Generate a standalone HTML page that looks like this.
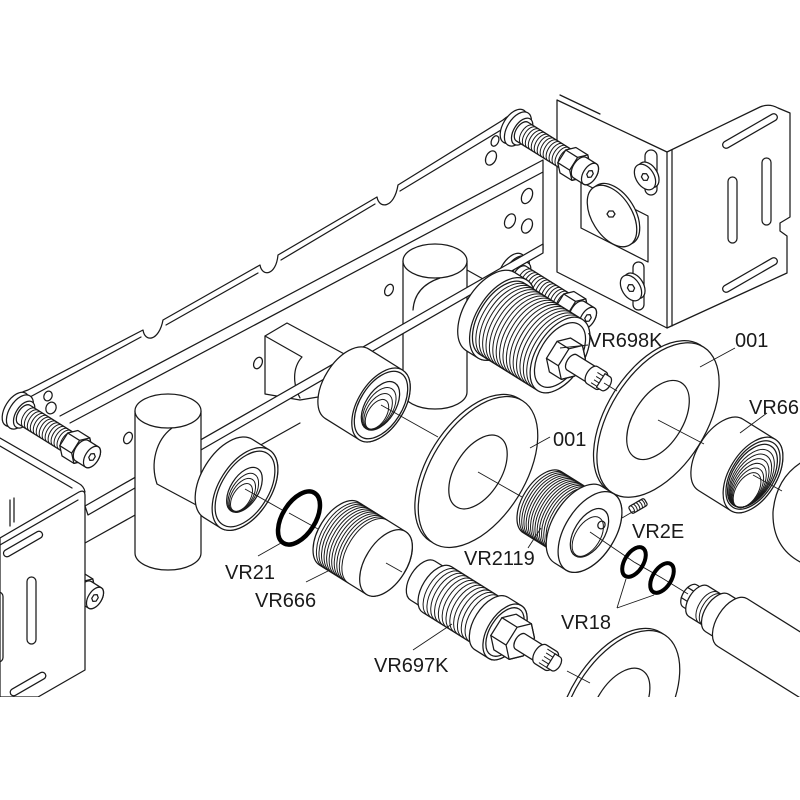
<!DOCTYPE html>
<html><head><meta charset="utf-8"><title>exploded diagram</title>
<style>
html,body{margin:0;padding:0;background:#fff;width:800px;height:800px;overflow:hidden}
svg{display:block}
.s{fill:none;stroke:#1a1a1a;stroke-width:1.25;stroke-linejoin:round;stroke-linecap:round}
.w{fill:#fff;stroke:#1a1a1a;stroke-width:1.25;stroke-linejoin:round}
.t{fill:none;stroke:#1a1a1a;stroke-width:1}
.l{fill:none;stroke:#1a1a1a;stroke-width:0.9}
.o{fill:none;stroke:#000}
text{font-family:"Liberation Sans",Arial,sans-serif;font-size:20px;fill:#1a1a1a}
</style></head><body>
<svg xmlns="http://www.w3.org/2000/svg" width="800" height="800" viewBox="0 0 800 800">
<defs>
<clipPath id="cp"><rect x="0" y="0" width="800" height="697"/></clipPath>
<g id="scr">
 <ellipse class="w" cy="-90" rx="19" ry="10.6"/>
 <ellipse class="w" cy="-85" rx="19" ry="10.6"/>
 <ellipse class="w" cy="-80" rx="15" ry="8.4"/>
 <path class="w" d="M-11,-80 A11,6.2 0 0 1 11,-80 L11,-24 A11,6.2 0 0 1 -11,-24 Z"/>
 <path class="t" d="M-11,-74a11,6.2 0 0 1 22,0M-11,-70.5a11,6.2 0 0 1 22,0M-11,-67a11,6.2 0 0 1 22,0M-11,-63.5a11,6.2 0 0 1 22,0M-11,-60a11,6.2 0 0 1 22,0M-11,-56.5a11,6.2 0 0 1 22,0M-11,-53a11,6.2 0 0 1 22,0M-11,-49.5a11,6.2 0 0 1 22,0M-11,-46a11,6.2 0 0 1 22,0M-11,-42.5a11,6.2 0 0 1 22,0M-11,-39a11,6.2 0 0 1 22,0M-11,-35.5a11,6.2 0 0 1 22,0M-11,-32a11,6.2 0 0 1 22,0M-11,-28.5a11,6.2 0 0 1 22,0"/>
 <path class="w" d="M15,-12 L7.5,-4.7 L-7.5,-4.7 L-15,-12 L-15,-26 L-7.5,-33.3 L7.5,-33.3 L15,-26 Z"/>
 <path class="s" d="M15,-12 L7.5,-4.7 L-7.5,-4.7 L-15,-12 L-7.5,-19.3 L7.5,-19.3 Z M7.5,-19.3 L7.5,-33.3 M-7.5,-19.3 L-7.5,-33.3"/>
 <path class="w" d="M-12,-12 A12,6.7 0 0 1 12,-12 L12,0 A12,6.7 0 0 1 -12,0 Z"/>
 <ellipse class="w" rx="12" ry="6.7"/>
 <path class="s" d="M4,0 L2,2.6 L-2,2.6 L-4,0 L-2,-2.6 L2,-2.6 Z"/>
</g>
</defs>

<g clip-path="url(#cp)">
<!-- Right box -->
<path class="w" d="M557,100 L667,152 L760,107 Q769,103 778,108 L790,113 L790,217 L780,223 L780,231 L787,236 L787,273 L667,328 L557,272 Z"/>
<path class="s" d="M667,152 L667,328 M672,150 L672,326 M560,95 L600,114"/>
<path class="s" d="M581,182 L648,216 L648,262 L581,228 Z"/>
<g transform="translate(612,216) rotate(58)"><ellipse class="w" cx="0" cy="-3.5" rx="34" ry="20"/><ellipse class="w" rx="34" ry="20"/></g>
<path class="s" d="M609,211 l4,0 l2,3 l-2,3 l-4,0 l-2,-3 z"/>
<rect class="w" x="645" y="150" width="12" height="45" rx="6"/>
<g transform="translate(645,177) rotate(58)"><ellipse class="w" cy="-4" rx="14" ry="9"/><ellipse class="w" rx="14" ry="9"/><path class="s" d="M4,0 L2,3 L-2,3 L-4,0 L-2,-3 L2,-3Z"/></g>
<rect class="w" x="633" y="262" width="11" height="48" rx="5.5"/>
<g transform="translate(631,288) rotate(58)"><ellipse class="w" cy="-4" rx="14" ry="9"/><ellipse class="w" rx="14" ry="9"/><path class="s" d="M4,0 L2,3 L-2,3 L-4,0 L-2,-3 L2,-3Z"/></g>
<rect class="s" x="-31" y="-3.5" width="62" height="7" rx="3.5" transform="translate(750,131) rotate(-30)"/>
<rect class="s" x="-31" y="-3.5" width="62" height="7" rx="3.5" transform="translate(750,275) rotate(-30)"/>
<rect class="s" x="728" y="177" width="9" height="66" rx="4.5"/>
<rect class="s" x="762" y="158" width="9" height="67" rx="4.5"/>

<!-- Rail -->
<path class="s" d="M14,400 Q20,392 28,390 L143,330 C145,343 159,341 163,320 L260,265 C262,277 276,276 278,255 L377,197 C379,209 394,209 398,185 L503,120 Q512,112 522,113"/>
<path class="s" d="M30,397 L141,337 M166,325 L258,273 M281,260 L375,204 M400,191 L506,127"/>
<path class="s" d="M60,416 L543,160 M70,423 L543,172 M543,160 L543,250 M85,543 L300,423"/>
<g class="s">
<ellipse cx="495" cy="141" rx="3.5" ry="5.5" transform="rotate(25 495 141)"/>
<ellipse cx="491" cy="158" rx="5" ry="7.5" transform="rotate(25 491 158)"/>
<ellipse cx="527" cy="196" rx="5" ry="8" transform="rotate(25 527 196)"/>
<ellipse cx="510" cy="221" rx="5" ry="7.5" transform="rotate(25 510 221)"/>
<ellipse cx="527" cy="226" rx="5" ry="7.5" transform="rotate(25 527 226)"/>
<ellipse cx="48" cy="396" rx="4" ry="5" transform="rotate(25 48 396)"/>
<ellipse cx="51" cy="408" rx="5" ry="6" transform="rotate(25 51 408)"/>
<ellipse cx="128" cy="438" rx="4" ry="6" transform="rotate(25 128 438)"/>
<ellipse cx="258" cy="363" rx="4" ry="6" transform="rotate(25 258 363)"/>
<ellipse cx="389" cy="290" rx="4" ry="6" transform="rotate(25 389 290)"/>
</g>

<!-- screws -->
<use href="#scr" transform="translate(590,174) rotate(-58)"/>
<use href="#scr" transform="translate(588,318) rotate(-58)"/>
<use href="#scr" transform="translate(92,457) rotate(-58)"/>
<use href="#scr" transform="translate(95,598) rotate(-58)"/>

<!-- Left box -->
<path class="s" d="M0,438 L78,483 Q84,486 85,492 M0,446 L72,488 M10,500 L10,526 M14,498 L14,522"/>
<path class="w" d="M0,538 L79,492 Q85,489 85,496 L85,670 L38,697 L0,697 Z"/>
<path class="s" d="M0,545 L78,500"/>
<rect class="s" x="-22" y="-3.5" width="44" height="7" rx="3.5" transform="translate(23,544) rotate(-30)"/>
<rect class="s" x="27" y="577" width="9" height="67" rx="4.5"/>
<rect class="s" x="-6" y="592" width="9" height="70" rx="4.5"/>
<rect class="s" x="-20" y="-3.5" width="40" height="7" rx="3.5" transform="translate(28,684) rotate(-30)"/>

<!-- T2 and block -->
<path class="w" d="M403,261 L403,392 A32,17 0 0 0 467,392 L467,261 Z"/>
<ellipse class="w" cx="435" cy="261" rx="32" ry="17"/>
<path class="s" d="M440,278 C422,284 414,295 413,310 M467,270 L492,284"/>
<path class="w" d="M265,394 L265,336 L287,323 L348,356 L348,392 L300,400 Z"/>
<path class="s" d="M265,336 L302,357 C292,368 293,385 300,398"/>

<!-- bar -->
<path class="w" d="M85,506 L543,244 L543,253 L88,515 Z"/>

<!-- T1 -->
<path class="w" d="M135,411 L135,553 A33,17 0 0 0 201,553 L201,411 Z"/>
<ellipse class="w" cx="168" cy="411" rx="33" ry="17"/>
<path class="s" d="M172,428 C156,440 150,463 157,484 L200,507"/>

<!-- collar -->
<g transform="translate(245,489) rotate(-58)">
<path class="w" d="M-46,-20 A46,26 0 0 1 46,-20 L46,0 A46,26 0 0 1 -46,0 Z"/>
<ellipse class="w" rx="46" ry="26"/>
<ellipse class="s" rx="42" ry="23.5"/>
<ellipse class="w" cx="-1" rx="25" ry="14"/>
<ellipse class="t" cx="-4" cy="0.5" rx="21.5" ry="12"/>
<ellipse class="t" cx="-6.5" cy="1" rx="18.5" ry="10.3"/>
<ellipse class="t" cx="-9" cy="1.5" rx="15.5" ry="8.6"/>
</g>

<!-- middle socket -->
<g transform="translate(381,405) rotate(-58)">
<path class="w" d="M-41,-40 A41,23 0 0 1 41,-40 L41,0 A41,23 0 0 1 -41,0 Z"/>
<ellipse class="w" rx="41" ry="23"/>
<ellipse class="s" rx="37.5" ry="21"/>
<ellipse class="w" cx="-1" rx="27" ry="15"/>
<ellipse class="t" cx="-4" cy="0.5" rx="23.5" ry="13.2"/>
<ellipse class="t" cx="-7" cy="1" rx="20" ry="11.2"/>
<ellipse class="t" cx="-10" cy="1.5" rx="16.5" ry="9.2"/>
</g>

<!-- VR698K -->
<g transform="translate(560,355) rotate(-58)">
<path class="w" d="M-46,-82 A46,25.8 0 0 1 46,-82 L46,-68 A46,25.8 0 0 1 -46,-68 Z"/>
<ellipse class="w" cy="-68" rx="46" ry="25.8"/>
<path class="w" d="M-42,-68 A42,23.5 0 0 1 42,-68 L42,0 A42,23.5 0 0 1 -42,0 Z"/>
<path class="t" d="M-42,-64a42,23.5 0 0 1 84,0M-42,-60a42,23.5 0 0 1 84,0M-42,-56a42,23.5 0 0 1 84,0M-42,-52a42,23.5 0 0 1 84,0M-42,-48a42,23.5 0 0 1 84,0M-42,-44a42,23.5 0 0 1 84,0M-42,-40a42,23.5 0 0 1 84,0M-42,-36a42,23.5 0 0 1 84,0M-42,-32a42,23.5 0 0 1 84,0M-42,-28a42,23.5 0 0 1 84,0M-42,-24a42,23.5 0 0 1 84,0M-42,-20a42,23.5 0 0 1 84,0M-42,-16a42,23.5 0 0 1 84,0M-42,-12a42,23.5 0 0 1 84,0M-42,-8a42,23.5 0 0 1 84,0M-42,-4a42,23.5 0 0 1 84,0"/>
<ellipse class="w" rx="42" ry="23.5"/>
<ellipse class="s" rx="36" ry="20"/>
<path class="w" d="M20,14 L10,23.7 L-10,23.7 L-20,14 L-20,0 L-10,-9.7 L10,-9.7 L20,0 Z"/>
<path class="s" d="M20,14 L10,23.7 L-10,23.7 L-20,14 L-10,4.3 L10,4.3 Z M10,4.3 L10,-9.7 M-10,4.3 L-10,-9.7"/>
<path class="w" d="M-9,14 L-9,40 A9,5 0 0 0 9,40 L9,14 A9,5 0 0 0 -9,14 Z"/>
<path class="w" d="M-10,38 A10,5.6 0 0 1 10,38 L10,48 A10,5.6 0 0 1 -10,48 Z"/>
<path class="t" d="M-7,41 L-7,52 M-3,42 L-3,53 M1,42 L1,53 M5,41 L5,52"/>
<path class="w" d="M-8,48 L-8,54 A8,4.5 0 0 0 8,54 L8,48 Z"/>
</g>

<!-- Disc 2 -->
<g transform="translate(658,420) rotate(-58)">
<ellipse class="w" cy="-4" rx="86" ry="48"/>
<ellipse class="w" rx="86" ry="48"/>
<ellipse class="w" rx="44" ry="24.6"/>
</g>

<!-- Disc 1 -->
<g transform="translate(478,472) rotate(-58)">
<ellipse class="w" cy="-4" rx="84" ry="47"/>
<ellipse class="w" rx="84" ry="47"/>
<ellipse class="w" rx="41" ry="23"/>
</g>

<!-- VR666 -->
<g transform="translate(386,563) rotate(-58)">
<path class="w" d="M-37,-55 A37,20.7 0 0 1 37,-55 L37,0 A37,20.7 0 0 1 -37,0 Z"/>
<path class="t" d="M-37,-51a37,20.7 0 0 1 74,0M-37,-48a37,20.7 0 0 1 74,0M-37,-45a37,20.7 0 0 1 74,0M-37,-42a37,20.7 0 0 1 74,0M-37,-39a37,20.7 0 0 1 74,0M-37,-36a37,20.7 0 0 1 74,0M-37,-33a37,20.7 0 0 1 74,0M-37,-30a37,20.7 0 0 1 74,0M-37,-27a37,20.7 0 0 1 74,0M-37,-24a37,20.7 0 0 1 74,0M-37,-21a37,20.7 0 0 1 74,0"/>
<ellipse class="w" rx="37" ry="20.7"/>
</g>

<!-- VR2119 -->
<g transform="translate(590,532) rotate(-58)">
<path class="w" d="M-36,-56 A36,20 0 0 1 36,-56 L36,-14 A36,20 0 0 1 -36,-14 Z"/>
<path class="t" d="M-36,-53a36,20 0 0 1 72,0M-36,-50.4a36,20 0 0 1 72,0M-36,-47.8a36,20 0 0 1 72,0M-36,-45.2a36,20 0 0 1 72,0M-36,-42.6a36,20 0 0 1 72,0M-36,-40a36,20 0 0 1 72,0M-36,-37.4a36,20 0 0 1 72,0M-36,-34.8a36,20 0 0 1 72,0M-36,-32.2a36,20 0 0 1 72,0M-36,-29.6a36,20 0 0 1 72,0M-36,-27a36,20 0 0 1 72,0M-36,-24.4a36,20 0 0 1 72,0M-36,-21.8a36,20 0 0 1 72,0M-36,-19.2a36,20 0 0 1 72,0M-36,-16.6a36,20 0 0 1 72,0"/>
<path class="w" d="M-45,-14 A45,25 0 0 1 45,-14 L45,0 A45,25 0 0 1 -45,0 Z"/>
<ellipse class="w" rx="45" ry="25"/>
<ellipse class="w" cx="-1" rx="27" ry="15"/>
<ellipse class="t" cx="-5" cy="0.5" rx="22" ry="12.3"/>
<ellipse class="s" cx="12" cy="6" rx="4" ry="3.5"/>
</g>

<!-- VR2E -->
<g transform="translate(638,506) rotate(-30)">
<rect class="w" x="-9" y="-4" width="18" height="8" rx="2"/>
<path class="t" d="M-6,-4 Q-4,0 -6,4 M-3,-4 Q-1,0 -3,4 M0,-4 Q2,0 0,4 M3,-4 Q5,0 3,4 M6,-4 Q8,0 6,4"/>
</g>

<!-- big right object and VR666 fitting -->
<path class="w" d="M802,462 Q776,478 773,512 Q772,548 802,563 Z"/>
<g transform="translate(753,475) rotate(-58)">
<path class="w" d="M-42,-38 A42,23.5 0 0 1 42,-38 L42,0 A42,23.5 0 0 1 -42,0 Z"/>
<ellipse class="w" rx="42" ry="23.5"/>
<ellipse class="s" rx="38" ry="21.3"/>
<ellipse class="w" cx="-1" rx="35" ry="19.6"/>
<ellipse class="t" cx="-3.5" cy="0.5" rx="32" ry="17.9"/>
<ellipse class="t" cx="-6" cy="1" rx="29.5" ry="16.5"/>
<ellipse class="t" cx="-8.5" cy="1.5" rx="27" ry="15.1"/>
<ellipse class="t" cx="-11" cy="2" rx="24.5" ry="13.7"/>
<ellipse class="t" cx="-13.5" cy="2.5" rx="22" ry="12.3"/>
<ellipse class="t" cx="-16" cy="3" rx="19.5" ry="10.9"/>
</g>

<!-- right-bottom cartridge -->
<g transform="translate(690,596) rotate(-58)">
<path class="w" d="M-13,0 A13,7.3 0 0 1 13,0 L13,16 L-13,16 Z"/>
<path class="s" d="M-6,-6.5 L-6,14 M6,-6.5 L6,14"/>
<path class="w" d="M-18,10 A18,10 0 0 1 18,10 L18,36 L-18,36 Z"/>
<path class="t" d="M-18,22a18,10 0 0 1 36,0M-18,26a18,10 0 0 1 36,0"/>
<path class="w" d="M-22,32 A22,12.3 0 0 1 22,32 L22,54 L-22,54 Z"/>
<path class="w" d="M-28,50 A28,15.7 0 0 1 28,50 L28,300 L-28,300 Z"/>
</g>

<!-- VR697K -->
<g transform="translate(505,632) rotate(-58)">
<path class="w" d="M-23,-97 A23,13 0 0 1 23,-97 L23,-78 A23,13 0 0 1 -23,-78 Z"/>
<path class="w" d="M-27,-80 A27,15 0 0 1 27,-80 L27,-16 A27,15 0 0 1 -27,-16 Z"/>
<path class="t" d="M-27,-74a27,15 0 0 1 54,0M-27,-69.5a27,15 0 0 1 54,0M-27,-65a27,15 0 0 1 54,0M-27,-60.5a27,15 0 0 1 54,0M-27,-56a27,15 0 0 1 54,0M-27,-51.5a27,15 0 0 1 54,0M-27,-47a27,15 0 0 1 54,0M-27,-42.5a27,15 0 0 1 54,0M-27,-38a27,15 0 0 1 54,0M-27,-33.5a27,15 0 0 1 54,0M-27,-29a27,15 0 0 1 54,0M-27,-24.5a27,15 0 0 1 54,0"/>
<path class="w" d="M-31,-16 A31,17.4 0 0 1 31,-16 L31,0 A31,17.4 0 0 1 -31,0 Z"/>
<ellipse class="w" rx="31" ry="17.4"/>
<ellipse class="s" rx="27" ry="15"/>
<path class="w" d="M21,18 L10.5,28.2 L-10.5,28.2 L-21,18 L-21,0 L-10.5,-10.2 L10.5,-10.2 L21,0 Z"/>
<path class="s" d="M21,18 L10.5,28.2 L-10.5,28.2 L-21,18 L-10.5,7.8 L10.5,7.8 Z M10.5,7.8 L10.5,-10.2 M-10.5,7.8 L-10.5,-10.2"/>
<path class="w" d="M-9,18 L-9,44 A9,5 0 0 0 9,44 L9,18 A9,5 0 0 0 -9,18 Z"/>
<path class="w" d="M-11,42 A11,6.2 0 0 1 11,42 L11,54 A11,6.2 0 0 1 -11,54 Z"/>
<path class="t" d="M-8,45 L-8,57 M-4,46 L-4,59 M0,46 L0,59 M4,46 L4,59 M8,45 L8,57"/>
<path class="w" d="M-8,54 L-8,60 A8,4.5 0 0 0 8,60 L8,54 Z"/>
</g>

<!-- Disc 3 -->
<g transform="translate(620,706) rotate(-58)">
<ellipse class="w" cy="-4" rx="84" ry="47"/>
<ellipse class="w" rx="84" ry="47"/>
<ellipse class="w" rx="42" ry="23.5"/>
</g>

<!-- centerlines -->
<path class="l" d="M245,489 L284,511 M289,513 L318,529 M386,563 L402,572 M381,405 L438,437 M478,472 L522,497 M590,532 L634,562 L662,578 L688,594 M604,383 L617,391 M658,420 L704,444 M753,475 L782,491 M567,671 L590,683"/>

<!-- O-rings -->
<ellipse class="o" stroke-width="4.5" rx="29.5" ry="16.5" transform="translate(299,518) rotate(-58)"/>
<ellipse class="o" stroke-width="4" rx="16.5" ry="9.3" transform="translate(634,562) rotate(-58)"/>
<ellipse class="o" stroke-width="4" rx="16.5" ry="9.3" transform="translate(662,578) rotate(-58)"/>

<!-- leaders -->
<path class="l" d="M560,348 L588,345 M735,348 L700,367 M767,413 L740,433 M550,437 L530,448 M622,518 L634,511 M528,548 L541,528 M617,608 L626,579 M617,608 L654,595 M258,556 L281,543 M306,582 L330,570 M413,650 L452,624"/>
</g>

<!-- labels -->
<text x="588" y="347">VR698K</text>
<text x="735" y="347">001</text>
<text x="749" y="414">VR666</text>
<text x="553" y="446">001</text>
<text x="632" y="538">VR2E</text>
<text x="464" y="565">VR2119</text>
<text x="561" y="629">VR18</text>
<text x="225" y="579">VR21</text>
<text x="255" y="607">VR666</text>
<text x="374" y="672">VR697K</text>
</svg>
</body></html>
